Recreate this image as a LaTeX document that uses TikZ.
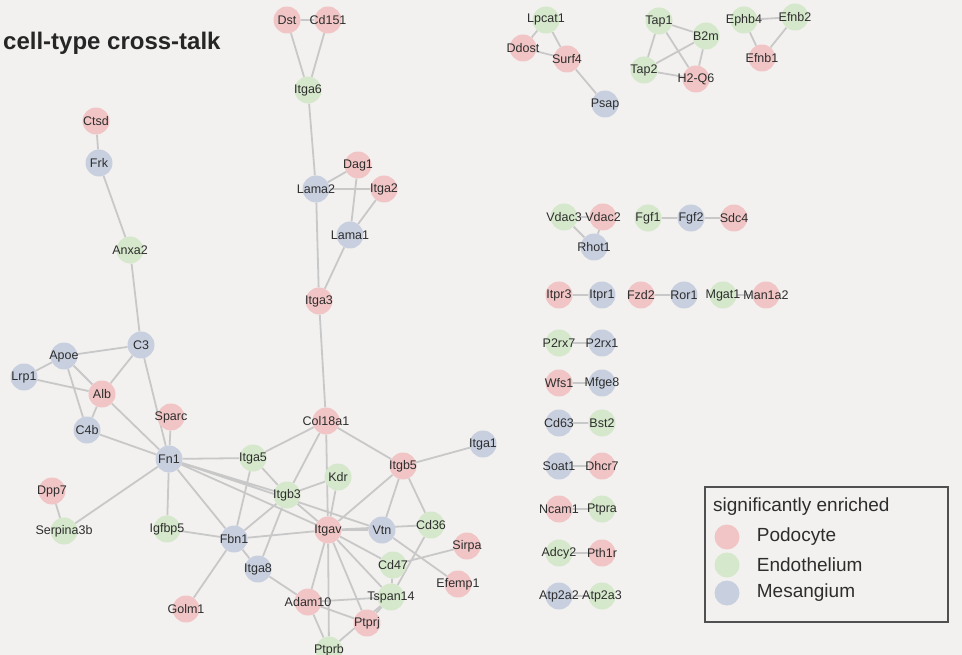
\documentclass[tikz,border=0pt]{standalone}
\usepackage{fontspec}
\setmainfont{Liberation Sans}
\usetikzlibrary{positioning}

\definecolor{podo}{RGB}{241,197,197}
\definecolor{endo}{RGB}{213,232,203}
\definecolor{mesa}{RGB}{200,208,224}
\definecolor{paper}{RGB}{242,241,239}
\definecolor{linkgray}{RGB}{200,200,200}
\definecolor{ink}{RGB}{45,45,45}
\definecolor{framegray}{RGB}{80,80,80}

\pgfdeclarelayer{back}
\pgfdeclarelayer{links}
\pgfsetlayers{back,links,main}

\newcommand{\gname}[1]{\makebox[0pt]{#1}}

\begin{document}
\begin{tikzpicture}[
    x=1pt, y=-1pt,
    font=\fontsize{12.5}{14}\selectfont,
    text=ink,
    gene/.style={circle, minimum size=27pt, inner sep=0pt},
    podocyte/.style={gene, fill=podo},
    endothelium/.style={gene, fill=endo},
    mesangium/.style={gene, fill=mesa},
    link/.style={draw=linkgray, line width=1.8pt},
    key/.style={circle, minimum size=25pt, inner sep=0pt},
    keytext/.style={right=17pt of #1, inner sep=0pt, font=\fontsize{19}{22}\selectfont}
]

% --- Fondo ---
\begin{pgfonlayer}{back}
\fill[paper] (0,0) rectangle (962,655);
\end{pgfonlayer}
\useasboundingbox (0,0) rectangle (962,655);

\node[anchor=west, inner sep=0pt, font=\fontsize{24}{28}\selectfont\bfseries, text=black!85] (title) at (3,43) {cell-type cross-talk};

% --- Red principal ---
\node[podocyte] (dst) at (287,20) {\gname{Dst}};
\node[podocyte] (cd151) at (328,20) {\gname{Cd151}};
\node[endothelium] (itga6) at (308,90) {\gname{Itga6}};
\node[mesangium] (lama2) at (316,189) {\gname{Lama2}};
\node[podocyte] (dag1) at (358,165) {\gname{Dag1}};
\node[podocyte] (itga2) at (384,189) {\gname{Itga2}};
\node[mesangium] (lama1) at (350,235) {\gname{Lama1}};
\node[podocyte] (itga3) at (319,301) {\gname{Itga3}};

\node[podocyte] (ctsd) at (96,121) {\gname{Ctsd}};
\node[mesangium] (frk) at (99,163) {\gname{Frk}};
\node[endothelium] (anxa2) at (130,250) {\gname{Anxa2}};
\node[mesangium] (c3) at (141,345) {\gname{C3}};
\node[mesangium] (apoe) at (64,356) {\gname{Apoe}};
\node[mesangium] (lrp1) at (24,377) {\gname{Lrp1}};
\node[podocyte] (alb) at (102,394) {\gname{Alb}};
\node[podocyte] (sparc) at (171,417) {\gname{Sparc}};
\node[mesangium] (c4b) at (87,430) {\gname{C4b}};
\node[mesangium] (fn1) at (169,459) {\gname{Fn1}};
\node[podocyte] (dpp7) at (52,491) {\gname{Dpp7}};
\node[endothelium] (serpina3b) at (64,531) {\gname{Serpina3b}};
\node[endothelium] (igfbp5) at (167,529) {\gname{Igfbp5}};
\node[mesangium] (fbn1) at (234,539) {\gname{Fbn1}};
\node[podocyte] (golm1) at (186,609) {\gname{Golm1}};
\node[mesangium] (itga8) at (258,569) {\gname{Itga8}};

\node[podocyte] (col18a1) at (326,421) {\gname{Col18a1}};
\node[endothelium] (itga5) at (253,458) {\gname{Itga5}};
\node[endothelium] (itgb3) at (287,495) {\gname{Itgb3}};
\node[endothelium] (kdr) at (338,477) {\gname{Kdr}};
\node[podocyte] (itgav) at (328,530) {\gname{Itgav}};
\node[podocyte] (itgb5) at (403,466) {\gname{Itgb5}};
\node[mesangium] (itga1) at (483,444) {\gname{Itga1}};
\node[mesangium] (vtn) at (382,530) {\gname{Vtn}};
\node[endothelium] (cd36) at (431,525) {\gname{Cd36}};
\node[podocyte] (sirpa) at (467,546) {\gname{Sirpa}};
\node[endothelium] (cd47) at (393,565) {\gname{Cd47}};
\node[podocyte] (efemp1) at (458,584) {\gname{Efemp1}};
\node[endothelium] (tspan14) at (391,597) {\gname{Tspan14}};
\node[podocyte] (adam10) at (308,602) {\gname{Adam10}};
\node[podocyte] (ptprj) at (367,623) {\gname{Ptprj}};
\node[endothelium] (ptprb) at (329,650) {\gname{Ptprb}};

% --- Grupos pequeños ---
\node[endothelium] (lpcat1) at (546,20) {\gname{Lpcat1}};
\node[podocyte] (ddost) at (523,48) {\gname{Ddost}};
\node[podocyte] (surf4) at (567,59) {\gname{Surf4}};
\node[mesangium] (psap) at (605,104) {\gname{Psap}};
\node[endothelium] (tap1) at (659,21) {\gname{Tap1}};
\node[endothelium] (b2m) at (706,36) {\gname{B2m}};
\node[endothelium] (tap2) at (644,70) {\gname{Tap2}};
\node[podocyte] (h2q6) at (696,79) {\gname{H2-Q6}};
\node[endothelium] (ephb4) at (744,20) {\gname{Ephb4}};
\node[endothelium] (efnb2) at (795,17) {\gname{Efnb2}};
\node[podocyte] (efnb1) at (762,58) {\gname{Efnb1}};

\node[endothelium] (vdac3) at (564,217) {\gname{Vdac3}};
\node[podocyte] (vdac2) at (603,217) {\gname{Vdac2}};
\node[mesangium] (rhot1) at (594,247) {\gname{Rhot1}};
\node[endothelium] (fgf1) at (648,218) {\gname{Fgf1}};
\node[mesangium] (fgf2) at (691,218) {\gname{Fgf2}};
\node[podocyte] (sdc4) at (734,218) {\gname{Sdc4}};

\node[podocyte] (itpr3) at (559,295) {\gname{Itpr3}};
\node[mesangium] (itpr1) at (602,295) {\gname{Itpr1}};
\node[podocyte] (fzd2) at (641,295) {\gname{Fzd2}};
\node[mesangium] (ror1) at (684,295) {\gname{Ror1}};
\node[endothelium] (mgat1) at (723,295) {\gname{Mgat1}};
\node[podocyte] (man1a2) at (766,295) {\gname{Man1a2}};

\node[endothelium] (p2rx7) at (559,343) {\gname{P2rx7}};
\node[mesangium] (p2rx1) at (602,343) {\gname{P2rx1}};
\node[podocyte] (wfs1) at (559,383) {\gname{Wfs1}};
\node[mesangium] (mfge8) at (602,383) {\gname{Mfge8}};
\node[mesangium] (cd63) at (559,423) {\gname{Cd63}};
\node[endothelium] (bst2) at (602,423) {\gname{Bst2}};
\node[mesangium] (soat1) at (559,466) {\gname{Soat1}};
\node[podocyte] (dhcr7) at (602,466) {\gname{Dhcr7}};
\node[podocyte] (ncam1) at (559,509) {\gname{Ncam1}};
\node[endothelium] (ptpra) at (602,509) {\gname{Ptpra}};
\node[endothelium] (adcy2) at (559,553) {\gname{Adcy2}};
\node[podocyte] (pth1r) at (602,553) {\gname{Pth1r}};
\node[mesangium] (atp2a2) at (559,596) {\gname{Atp2a2}};
\node[endothelium] (atp2a3) at (602,596) {\gname{Atp2a3}};

% --- Enlaces ---
\begin{pgfonlayer}{links}
\draw[link] (dst) -- (cd151) (dst) -- (itga6) (cd151) -- (itga6)
    (itga6) -- (lama2) (lama2) -- (dag1) (lama2) -- (itga2)
    (dag1) -- (lama1) (itga2) -- (lama1) (lama2) -- (itga3)
    (lama1) -- (itga3) (itga3) -- (col18a1);
\draw[link] (ctsd) -- (frk) (frk) -- (anxa2) (anxa2) -- (c3)
    (c3) -- (apoe) (c3) -- (alb) (c3) -- (fn1)
    (apoe) -- (lrp1) (apoe) -- (alb) (apoe) -- (c4b)
    (lrp1) -- (alb) (alb) -- (c4b) (alb) -- (fn1)
    (c4b) -- (fn1) (sparc) -- (fn1);
\draw[link] (fn1) -- (itga5) (fn1) -- (itgb3) (fn1) -- (vtn)
    (fn1) -- (itgav) (fn1) -- (fbn1) (fn1) -- (igfbp5)
    (fn1) -- (serpina3b) (dpp7) -- (serpina3b) (igfbp5) -- (fbn1)
    (itga5) -- (col18a1) (itga5) -- (itgb3) (itga5) -- (fbn1)
    (col18a1) -- (itgb3) (col18a1) -- (itgav) (col18a1) -- (itgb5)
    (itgb5) -- (itga1) (itgb5) -- (itgav) (itgb5) -- (vtn) (itgb5) -- (cd36)
    (kdr) -- (itgb3) (kdr) -- (itgav)
    (itgb3) -- (itgav) (itgb3) -- (fbn1) (itgb3) -- (itga8)
    (itgav) -- (fbn1) (itgav) -- (vtn) (itgav) -- (cd36)
    (vtn) -- (efemp1) (itgav) -- (cd47) (itgav) -- (tspan14)
    (itgav) -- (adam10) (itgav) -- (ptprj) (itgav) -- (ptprb)
    (cd36) -- (tspan14) (cd47) -- (sirpa) (cd47) -- (tspan14)
    (tspan14) -- (adam10) (tspan14) -- (ptprj) (tspan14) -- (ptprb)
    (adam10) -- (ptprj) (adam10) -- (ptprb)
    (fbn1) -- (itga8) (fbn1) -- (golm1) (itga8) -- (adam10);
\draw[link] (lpcat1) -- (ddost) (lpcat1) -- (surf4) (ddost) -- (surf4) (surf4) -- (psap)
    (tap1) -- (b2m) (tap1) -- (tap2) (tap1) -- (h2q6)
    (b2m) -- (tap2) (b2m) -- (h2q6) (tap2) -- (h2q6)
    (ephb4) -- (efnb2) (ephb4) -- (efnb1) (efnb2) -- (efnb1)
    (vdac3) -- (vdac2) (vdac3) -- (rhot1) (vdac2) -- (rhot1)
    (fgf1) -- (fgf2) (fgf2) -- (sdc4)
    (itpr3) -- (itpr1) (fzd2) -- (ror1) (mgat1) -- (man1a2)
    (p2rx7) -- (p2rx1) (wfs1) -- (mfge8) (cd63) -- (bst2) (soat1) -- (dhcr7)
    (ncam1) -- (ptpra) (adcy2) -- (pth1r) (atp2a2) -- (atp2a3);
\end{pgfonlayer}

% --- Leyenda ---
\node[draw=framegray, line width=1.4pt, minimum width=243pt, minimum height=135pt, inner sep=0pt] (legend) at (826.5,554.5) {};
\node[anchor=west, inner sep=0pt, font=\fontsize{19}{22}\selectfont] (keytitle) at (713,507) {significantly enriched};
\node[key, fill=podo] (keypodo) at (727,537) {};
\node[keytext=keypodo] {Podocyte};
\node[key, fill=endo] (keyendo) at (727,565) {};
\node[keytext=keyendo] {Endothelium};
\node[key, fill=mesa] (keymesa) at (727,593) {};
\node[keytext=keymesa] {Mesangium};

\end{tikzpicture}
\end{document}
